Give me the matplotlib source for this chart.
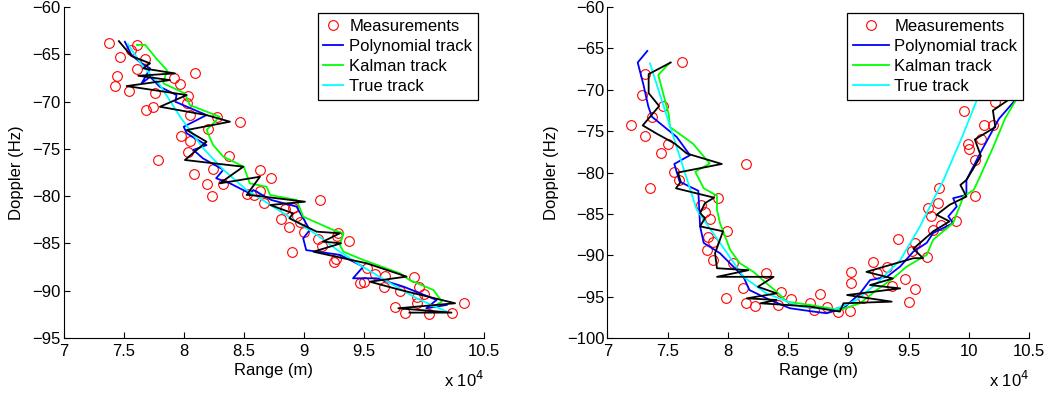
import numpy as np
import matplotlib
matplotlib.use('Agg')
import matplotlib.pyplot as plt

plt.rcParams['font.family'] = ['Liberation Sans', 'DejaVu Sans']
plt.rcParams['font.size'] = 12

# ---- left: receding target (range in units of 1e4 m, doppler in Hz) ----
meas1_r = [7.374, 7.613, 7.466, 7.564, 7.441, 7.430, 7.614, 7.680, 8.093, 7.918,
           7.971, 7.544, 7.758, 8.032, 8.024, 7.683, 7.744, 8.054, 8.276, 8.465,
           8.199, 7.979, 8.049, 8.032, 7.782, 8.376, 8.088, 8.244, 8.193, 8.632,
           8.724, 8.326, 8.234, 8.524, 8.637, 9.137, 8.587, 8.668, 8.843, 8.912,
           8.940, 8.807, 8.879, 8.968, 9.001, 9.287, 9.378, 9.273, 9.115, 9.151,
           8.901, 9.265, 9.254, 9.524, 9.590, 9.673, 9.917, 9.467, 9.500, 9.664,
           9.800, 10.003, 9.939, 9.960, 10.336, 9.761, 9.842, 10.040, 10.233, 9.939]
meas1_d = [-63.77, -63.98, -65.29, -64.55, -67.26, -68.32, -66.59, -65.53, -66.94, -67.54,
           -68.10, -68.88, -69.13, -69.41, -70.12, -70.89, -70.57, -71.45, -71.66, -72.12,
           -72.90, -73.64, -74.20, -75.33, -76.20, -75.72, -77.62, -77.12, -78.74, -77.23,
           -78.04, -78.71, -79.98, -79.77, -79.42, -80.40, -79.87, -80.75, -81.39, -81.28,
           -82.06, -82.44, -83.22, -82.76, -83.75, -83.86, -84.77, -84.20, -84.56, -85.26,
           -85.87, -86.67, -86.92, -87.56, -88.22, -88.44, -88.57, -89.18, -89.04, -89.60,
           -90.05, -90.34, -90.62, -89.56, -91.32, -91.75, -92.38, -92.42, -92.31, -91.32]

poly1_r = [7.51, 7.565, 7.649, 7.72, 7.649, 7.72, 7.80, 7.94, 7.93, 8.19,
           8.00, 8.025, 8.19, 8.08, 8.16, 8.33, 8.27, 8.385, 8.55, 8.58,
           8.73, 8.94, 9.05, 8.995, 9.02, 9.30, 9.495, 9.41, 9.605, 9.83,
           10.106, 10.02, 10.19]
poly1_d = [-63.67, -65.07, -65.96, -66.48, -68.07, -67.37, -68.42, -69.30, -70.01, -71.42,
           -72.65, -73.35, -74.60, -75.10, -76.00, -77.20, -78.10, -78.64, -79.70, -79.34,
           -80.40, -81.10, -83.57, -84.45, -85.70, -86.20, -87.45, -88.68, -88.68, -89.56,
           -90.97, -91.85, -91.50]

kalman1_r = [7.61, 7.68, 7.77, 7.86, 7.83, 8.01, 8.05, 8.30, 8.19, 8.245,
             8.33, 8.50, 8.55, 8.69, 8.72, 8.94, 8.995, 9.245, 9.33, 9.30,
             9.33, 9.495, 9.80, 9.88, 10.08, 10.15, 10.08]
kalman1_d = [-64.00, -64.00, -65.42, -66.66, -68.07, -69.12, -70.36, -71.60, -73.00, -74.59,
             -75.82, -76.88, -78.64, -79.00, -79.87, -80.40, -82.16, -83.57, -83.92, -85.16,
             -85.87, -86.74, -88.15, -88.86, -89.92, -91.15, -91.68]

true1_r = [7.535, 7.65, 7.80, 7.97, 8.16, 8.33, 8.52, 8.83, 9.11, 9.28,
           9.49, 9.72, 9.94, 10.19]
true1_d = [-63.9, -66.1, -68.2, -71.6, -74.9, -77.2, -79.3, -81.8, -84.1, -85.7,
           -87.45, -89.2, -90.8, -92.2]

black1_r = [7.46, 7.565, 7.719, 7.663, 7.927, 7.621, 7.885, 7.525, 8.025, 7.802,
            8.19, 8.385, 8.025, 8.19, 8.01, 8.496, 8.30, 8.635, 8.524, 8.55,
            9.01, 8.72, 8.91, 8.88, 9.107, 9.30, 9.16, 9.31, 9.08, 9.525,
            9.856, 9.55, 9.80, 10.26, 9.787, 10.23, 9.88]
black1_d = [-63.6, -65.18, -65.95, -66.48, -67.01, -67.26, -67.72, -68.35, -69.30, -70.54,
            -71.42, -72.12, -73.00, -74.24, -76.17, -76.88, -78.64, -77.94, -79.87, -79.87,
            -80.58, -80.93, -81.81, -82.34, -83.75, -83.92, -84.80, -84.98, -85.87, -87.10,
            -88.50, -89.04, -89.90, -91.32, -91.85, -92.31, -92.31]

# ---- right: target passing through closest approach ----
meas2_r = [7.622, 7.315, 7.285, 7.462, 7.373, 7.200, 7.313, 7.506, 7.446, 8.149,
           7.554, 7.592, 7.357, 7.921, 7.780, 7.810, 7.852, 7.996, 7.838, 7.880,
           7.825, 7.880, 8.046, 8.315, 8.124, 7.983, 8.151, 8.226, 8.441, 8.419,
           8.522, 8.682, 8.765, 8.718, 8.820, 8.917, 9.022, 9.022, 9.014, 9.202,
           9.120, 9.324, 9.235, 9.360, 9.470, 9.553, 9.506, 9.415, 9.553, 9.526,
           9.650, 9.690, 9.705, 9.767, 9.659, 9.742, 9.890, 9.755, 10.050, 9.96,
           9.99, 10.13, 10.00, 10.05, 10.20, 10.22, 10.10]
meas2_d = [-66.64, -68.13, -70.63, -71.96, -73.25, -74.29, -75.54, -76.55, -77.67, -78.96,
           -79.97, -80.89, -81.90, -83.03, -83.91, -84.72, -85.64, -87.05, -87.81, -88.34,
           -89.35, -90.56, -90.96, -92.16, -93.97, -95.18, -95.71, -96.11, -94.38, -95.99,
           -95.30, -95.71, -94.70, -96.60, -96.20, -96.80, -91.97, -93.37, -96.71, -90.80,
           -95.11, -91.36, -92.16, -93.70, -92.90, -94.10, -95.60, -87.98, -88.54, -89.47,
           -90.16, -85.24, -86.93, -86.33, -84.31, -83.64, -85.85, -81.82, -82.79, -72.5,
           -76.6, -74.3, -77.2, -78.5, -74.2, -71.5, -76.0]

poly2_r = [7.332, 7.252, 7.30, 7.34, 7.37, 7.576, 7.686, 7.556, 7.60, 7.755,
           7.77, 7.80, 7.935, 8.13, 8.18, 8.35, 8.516, 8.71, 8.82, 8.96,
           9.097, 9.18, 9.32, 9.43, 9.54, 9.65, 9.705, 9.87, 9.83, 9.90,
           9.87, 9.98, 9.98, 10.10, 10.25, 10.40]
poly2_d = [-65.3, -66.7, -69.4, -72.0, -73.25, -75.7, -77.9, -78.96, -81.1, -82.2,
           -86.5, -88.5, -89.75, -92.6, -94.2, -95.4, -96.4, -96.8, -97.0, -96.4,
           -94.6, -93.0, -92.6, -91.36, -89.55, -88.5, -87.3, -86.1, -85.3, -84.1,
           -83.1, -82.7, -80.9, -77.5, -73.5, -71.0]

kalman2_r = [7.52, 7.423, 7.51, 7.52, 7.71, 7.85, 7.73, 7.80, 7.91, 7.91,
             7.935, 8.02, 8.10, 8.21, 8.32, 8.405, 8.49, 8.68, 8.93, 9.097,
             9.235, 9.37, 9.485, 9.65, 9.705, 9.87, 9.955, 10.04, 10.08, 10.20,
             10.30, 10.42]
kalman2_d = [-66.7, -68.2, -73.0, -74.5, -76.5, -78.9, -79.9, -81.9, -82.8, -84.5,
             -86.1, -89.35, -90.96, -91.97, -93.37, -94.4, -95.6, -96.0, -96.6, -95.8,
             -94.2, -92.8, -91.36, -89.95, -88.1, -86.1, -82.9, -82.1, -80.9, -77.0,
             -73.5, -70.5]

true2_r = [7.354, 7.742, 7.935, 8.13, 8.32, 8.60, 8.875, 9.07, 9.235, 9.43,
           9.595, 9.705, 9.79, 9.95, 10.10]
true2_d = [-66.8, -84.5, -88.5, -92.6, -94.6, -96.2, -96.6, -95.4, -93.4, -90.6,
           -86.5, -83.3, -80.9, -75.5, -70.0]

black2_r = [7.526, 7.343, 7.343, 7.43, 7.294, 7.41, 7.56, 7.66, 7.95, 7.584,
            7.61, 7.57, 7.886, 7.81, 7.77, 7.81, 7.77, 7.96, 7.894, 7.91,
            8.17, 7.91, 8.38, 8.25, 8.405, 8.157, 8.405, 8.27, 8.49, 8.68,
            8.93, 8.96, 9.36, 8.99, 9.43, 9.18, 9.37, 9.15, 9.54, 9.62,
            9.54, 9.705, 9.84, 9.733, 9.84, 9.98, 9.93, 9.98, 10.10, 10.05,
            10.22, 10.20, 10.35]
black2_d = [-66.7, -68.1, -70.4, -71.96, -74.3, -75.3, -76.5, -77.7, -78.96, -80.0,
            -81.1, -81.9, -83.03, -83.7, -84.9, -85.5, -86.5, -87.1, -89.75, -91.56,
            -91.8, -92.6, -92.6, -93.8, -94.6, -95.2, -95.4, -95.8, -96.0, -96.2,
            -96.8, -95.8, -95.6, -94.8, -94.0, -93.6, -92.8, -92.0, -90.35, -90.35,
            -89.2, -87.1, -85.9, -85.1, -83.9, -82.9, -81.5, -80.9, -78.0, -76.0,
            -74.5, -72.5, -71.0]

panels = [
    (meas1_r, meas1_d, poly1_r, poly1_d, kalman1_r, kalman1_d,
     true1_r, true1_d, black1_r, black1_d, (-95, -60),
     [0.0605, 0.142, 0.3995, 0.84], 1.2),
    (meas2_r, meas2_d, poly2_r, poly2_d, kalman2_r, kalman2_d,
     true2_r, true2_d, black2_r, black2_d, (-100, -60),
     [0.5773, 0.142, 0.4009, 0.84], 2.15),
]

fig = plt.figure(figsize=(10.52, 3.94), dpi=100)
for (mr, md, pr, pd_, kr, kd, tr, td, br, bd, ylim, pos, hlen) in panels:
    ax = fig.add_axes(pos)
    ax.plot(mr, md, 'o', mfc='none', mec='red', ms=7, mew=0.8, label='Measurements')
    ax.plot(pr, pd_, color='#0000ff', lw=1.3, label='Polynomial track')
    ax.plot(kr, kd, color='#00ff00', lw=1.3, label='Kalman track')
    ax.plot(tr, td, color='cyan', lw=1.3, label='True track')
    ax.plot(br, bd, color='black', lw=1.3)
    ax.set_xlim(7, 10.5)
    ax.set_ylim(*ylim)
    ax.set_xticks(np.arange(7, 10.51, 0.5))
    ax.set_xticklabels(['7', '7.5', '8', '8.5', '9', '9.5', '10', '10.5'])
    yt = np.arange(ylim[0], -59, 5)
    ax.set_yticks(yt)
    ax.set_yticklabels(['\u2212%d' % -v for v in yt])
    ax.spines['top'].set_visible(False)
    ax.spines['right'].set_visible(False)
    ax.tick_params(direction='in', length=4, width=0.8)
    ax.tick_params(axis='x', pad=4)
    ax.tick_params(axis='y', pad=2)
    ax.set_xlabel('Range (m)', labelpad=3)
    ax.set_ylabel('Doppler (Hz)', labelpad=6)
    ax.text(1.0, -0.147, 'x 10$^4$', transform=ax.transAxes, ha='right', va='baseline')
    leg = ax.legend(loc='upper right', fancybox=False, edgecolor='black',
                    framealpha=1, borderaxespad=0.35, handlelength=hlen,
                    handletextpad=0.35, labelspacing=0.3, borderpad=0.35,
                    numpoints=1)
    leg.get_frame().set_linewidth(0.9)

fig.savefig('out.png', dpi=100)
